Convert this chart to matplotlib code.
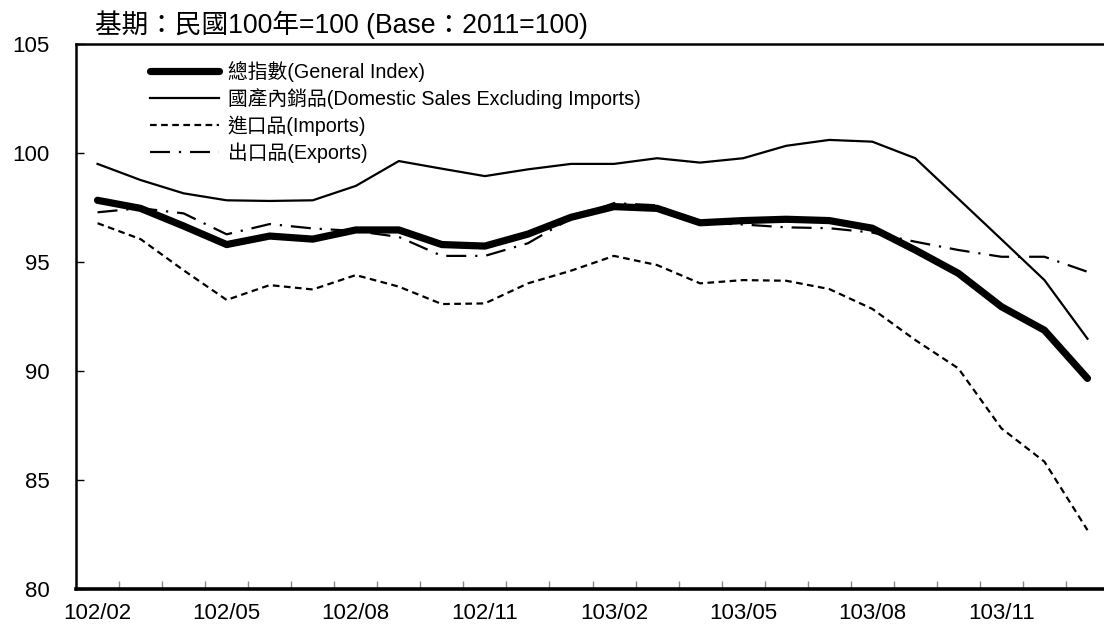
import matplotlib
matplotlib.use('Agg')
import matplotlib.pyplot as plt

plt.rcParams['font.family'] = ['Liberation Sans', 'Noto Sans CJK TC', 'DejaVu Sans']

months = ['102/02', '102/03', '102/04', '102/05', '102/06', '102/07', '102/08', '102/09',
          '102/10', '102/11', '102/12', '103/01', '103/02', '103/03', '103/04', '103/05',
          '103/06', '103/07', '103/08', '103/09', '103/10', '103/11', '103/12', '104/01']

general = [97.83, 97.46, 96.65, 95.80, 96.19, 96.05, 96.47, 96.47, 95.80, 95.73, 96.28, 97.05,
           97.54, 97.46, 96.80, 96.90, 96.96, 96.90, 96.55, 95.55, 94.48, 92.95, 91.87, 89.66]
domestic = [99.50, 98.76, 98.15, 97.83, 97.80, 97.83, 98.49, 99.63, 99.28, 98.94, 99.25, 99.50,
            99.50, 99.76, 99.56, 99.76, 100.33, 100.60, 100.52, 99.76, 97.90, 96.04, 94.17, 91.48]
imports = [96.78, 96.05, 94.62, 93.26, 93.94, 93.74, 94.40, 93.87, 93.07, 93.10, 94.02, 94.60,
           95.28, 94.86, 94.02, 94.17, 94.14, 93.76, 92.85, 91.42, 90.12, 87.37, 85.84, 82.70]
exports = [97.28, 97.47, 97.23, 96.27, 96.74, 96.54, 96.42, 96.15, 95.28, 95.28, 95.86, 97.00,
           97.70, 97.60, 96.80, 96.72, 96.59, 96.55, 96.35, 95.93, 95.55, 95.24, 95.24, 94.55]

labels = ['總指數(General Index)', '國產內銷品(Domestic Sales Excluding Imports)',
          '進口品(Imports)', '出口品(Exports)']

fig = plt.figure(figsize=(11.04, 6.27), dpi=100)
ax = fig.add_axes([76 / 1104, 38 / 627, 1033 / 1104, 545 / 627])

x = range(len(months))
ax.plot(x, general, color='black', lw=5.2, solid_capstyle='round', solid_joinstyle='round', label=labels[0])
ax.plot(x, domestic, color='black', lw=1.6, label=labels[1])
ax.plot(x, imports, color='black', lw=1.6, dashes=(3, 2), label=labels[2])
ax.plot(x, exports, color='black', lw=1.6, dashes=(9, 4, 1, 4), label=labels[3])

ax.set_xlim(-0.5, len(months) - 0.5)
ax.set_ylim(80, 105)
ax.set_yticks([80, 85, 90, 95, 100, 105])
ax.tick_params(axis='y', direction='in', length=6, width=1, labelsize=16, pad=19)

ax.set_xticks(list(x)[::3])
ax.set_xticklabels(months[::3])
ax.set_xticks([i + 0.5 for i in range(len(months) - 1)], minor=True)
ax.tick_params(axis='x', which='major', length=0, labelsize=16, pad=10)
ax.tick_params(axis='x', which='minor', direction='in', length=6, width=1, color='#888888')

for side in ['left', 'top', 'right']:
    ax.spines[side].set_linewidth(1.8)
ax.spines['bottom'].set_linewidth(2.6)

fig.text(95 / 1104, 1 - 25 / 627, '基期：民國100年=100 (Base：2011=100)', fontsize=19.2,
         ha='left', va='center')

ax.legend(loc='upper left', bbox_to_anchor=(140 / 1104, 1 - 51 / 627),
          bbox_transform=fig.transFigure, frameon=False, fontsize=14.2,
          handlelength=3.5, handletextpad=0.45, labelspacing=0.33, borderpad=0)

fig.savefig('out.png', dpi=100)
